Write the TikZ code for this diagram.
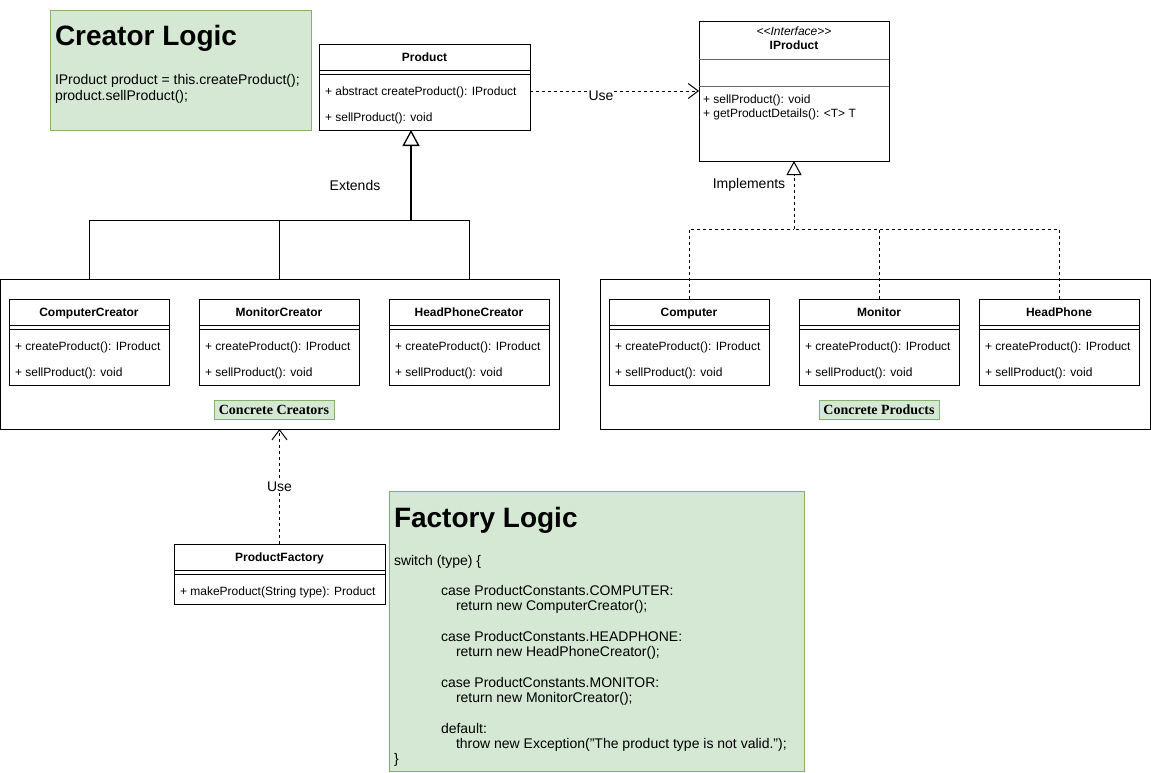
\documentclass[tikz,border=0pt]{standalone}
\usepackage{fontspec}
\setmainfont{Liberation Sans}
\newfontfamily\tnr{Liberation Serif}
\usetikzlibrary{arrows.meta}
\definecolor{gfill}{HTML}{D5E8D4}
\definecolor{gline}{HTML}{82B366}
\tikzset{
  box/.style={draw, line width=1pt, fill=white, anchor=north west, inner sep=0pt, outer sep=0pt},
  gbox/.style={draw=gline, line width=1pt, fill=gfill, anchor=north west, inner sep=0pt, outer sep=0pt},
  txt/.style={inner sep=0pt, outer sep=0pt, font=\fontsize{12}{14}\selectfont},
  btxt/.style={inner sep=0pt, outer sep=0pt, font=\fontsize{12}{14}\selectfont\bfseries},
  mtxt/.style={inner sep=0pt, outer sep=0pt, font=\fontsize{14}{16}\selectfont, anchor=base west},
  htxt/.style={inner sep=0pt, outer sep=0pt, font=\fontsize{28}{32}\selectfont\bfseries, anchor=base west},
  lbl/.style={inner sep=1pt, outer sep=0pt, font=\fontsize{14}{16}\selectfont, fill=white},
  sep/.style={line width=1pt},
  extline/.style={line width=1pt, -{Triangle[open, length=16pt, width=17pt, line width=1.3pt]}},
  implline/.style={line width=1pt, dash pattern=on 3pt off 3pt, -{Triangle[open, length=14pt, width=15pt, line width=1pt]}},
  impls/.style={line width=1pt, dash pattern=on 3pt off 3pt},
  useline/.style={line width=1pt, dash pattern=on 3pt off 3pt, -{Straight Barb[length=10pt, width=15pt, line width=1pt]}},
  grplbl/.style={draw=gline, line width=1pt, fill=gfill, inner sep=0pt, minimum width=120pt, minimum height=19pt, font=\fontsize{14}{16}\selectfont\tnr\bfseries},
}
\newcommand\clsbox[6]{%
  \node[box, minimum width=#4pt, minimum height=#5pt] (#1) at (#2,#3) {};
  \draw[sep] ([yshift=-26pt]#1.north west) -- ([yshift=-26pt]#1.north east);
  \draw[sep] ([yshift=-30pt]#1.north west) -- ([yshift=-30pt]#1.north east);
  \node[btxt, anchor=base] (#1-title) at ([yshift=-17pt]#1.north) {#6};
}
\newcommand\clsmem[4]{%
  \node[txt, anchor=base west] (#1-#2) at ([xshift=6pt,yshift=-#3pt]#1.north west) {#4};
}
\begin{document}
\begin{tikzpicture}[x=1pt, y=-1pt]
\useasboundingbox (0,0) rectangle (1151,772);

% Creator Logic note
\node[gbox, minimum width=261pt, minimum height=120pt] (clogic) at (50,10) {};
\node[htxt] (clogic-h) at (55,45) {Creator Logic};
\node[mtxt] (clogic-1) at (55,84) {IProduct product = this.createProduct();};
\node[mtxt] (clogic-2) at (55,100) {product.sellProduct();};

% Product
\clsbox{product}{319}{44}{211}{86}{Product}
\clsmem{product}{a}{51}{+ abstract createProduct(): IProduct}
\clsmem{product}{b}{77}{+ sellProduct(): void}

% IProduct
\node[box, minimum width=190pt, minimum height=140pt] (iprod) at (699,21) {};
\draw[sep, black!60] (699,59) -- (889,59);
\draw[sep, black!60] (699,86) -- (889,86);
\node[txt, anchor=base, font=\fontsize{12}{14}\selectfont\itshape] (iprod-st) at (794,35) {<\kern0pt<Interface>\kern0pt>};
\node[btxt, anchor=base] (iprod-title) at (794,49) {IProduct};
\node[txt, anchor=base west] (iprod-a) at (703,103) {+ sellProduct(): void};
\node[txt, anchor=base west] (iprod-b) at (703,117) {+ getProductDetails(): <T> T};

% Use Product -> IProduct
\draw[useline] (product.east |- iprod.west) -- (iprod.west);
\node[lbl] (use1) at (601,96) {Use};

% Extends edges (drawn before container so that it hides them inside)
\coordinate (xe) at (411,0);
\coordinate (ejct) at (411,220);
\coordinate (cc-top) at (89,299);
\coordinate (mc-top) at (279,299);
\coordinate (hc-top) at (469,299);
\draw[line width=1pt] (cc-top) |- (ejct);
\draw[line width=1pt] (hc-top) |- (ejct);
\draw[line width=1pt] (mc-top) |- (ejct);
\draw[extline, line width=1.6pt] (ejct) -- (product.south -| xe);
\node[txt, font=\fontsize{14}{16}\selectfont] (extlbl) at (355,185) {Extends};

% Concrete Creators container
\node[box, minimum width=559pt, minimum height=150pt] (creators) at (0.5,279) {};
\clsbox{cc}{9}{299}{160}{86}{ComputerCreator}
\clsmem{cc}{a}{51}{+ createProduct(): IProduct}
\clsmem{cc}{b}{77}{+ sellProduct(): void}
\clsbox{mc}{199}{299}{160}{86}{MonitorCreator}
\clsmem{mc}{a}{51}{+ createProduct(): IProduct}
\clsmem{mc}{b}{77}{+ sellProduct(): void}
\clsbox{hc}{389}{299}{160}{86}{HeadPhoneCreator}
\clsmem{hc}{a}{51}{+ createProduct(): IProduct}
\clsmem{hc}{b}{77}{+ sellProduct(): void}
\node[grplbl] (creators-lbl) at (274,409.5) {Concrete Creators};

% Concrete Products container
\node[box, minimum width=550pt, minimum height=150pt] (products) at (600,279) {};
\clsbox{comp}{609}{299}{160}{86}{Computer}
\clsmem{comp}{a}{51}{+ createProduct(): IProduct}
\clsmem{comp}{b}{77}{+ sellProduct(): void}
\clsbox{mon}{799}{299}{160}{86}{Monitor}
\clsmem{mon}{a}{51}{+ createProduct(): IProduct}
\clsmem{mon}{b}{77}{+ sellProduct(): void}
\clsbox{hp}{979}{299}{160}{86}{HeadPhone}
\clsmem{hp}{a}{51}{+ createProduct(): IProduct}
\clsmem{hp}{b}{77}{+ sellProduct(): void}
\node[grplbl] (products-lbl) at (879,409.5) {Concrete Products};

% Implements edges
\coordinate (ijct) at (794,229);
\coordinate (comp-top) at (689,299);
\coordinate (mon-top) at (879,299);
\coordinate (hp-top) at (1059,299);
\draw[impls] (comp-top) |- (ijct);
\draw[impls] (hp-top) |- (ijct);
\draw[impls] (mon-top) |- (ijct);
\draw[implline] (ijct) -- (iprod.south);
\node[txt, font=\fontsize{14}{16}\selectfont] (impllbl) at (749,185) {Implements};

% ProductFactory
\clsbox{pf}{174}{544}{211}{60}{ProductFactory}
\clsmem{pf}{a}{51}{+ makeProduct(String type): Product}
\draw[useline] (pf.north) -- (creators.south -| pf.north);
\node[lbl] (use2) at (279.5,487) {Use};

% Factory Logic note
\node[gbox, minimum width=415pt, minimum height=280pt] (flogic) at (389,491) {};
\node[htxt] (flogic-h) at (394,527) {Factory Logic};
\node[mtxt] (fl1) at (394,565) {switch (type) \{};
\node[mtxt] (fl2) at (441,595.6) {case ProductConstants.COMPUTER:};
\node[mtxt] (fl3) at (456,610.9) {return new ComputerCreator();};
\node[mtxt] (fl4) at (441,641.5) {case ProductConstants.HEADPHONE:};
\node[mtxt] (fl5) at (456,656.8) {return new HeadPhoneCreator();};
\node[mtxt] (fl6) at (441,687.4) {case ProductConstants.MONITOR:};
\node[mtxt] (fl7) at (456,702.7) {return new MonitorCreator();};
\node[mtxt] (fl8) at (441,733.3) {default:};
\node[mtxt] (fl9) at (456,748.6) {throw new Exception("The product type is not valid.");};
\node[mtxt] (fl10) at (394,763.9) {\}};
\end{tikzpicture}
\end{document}
